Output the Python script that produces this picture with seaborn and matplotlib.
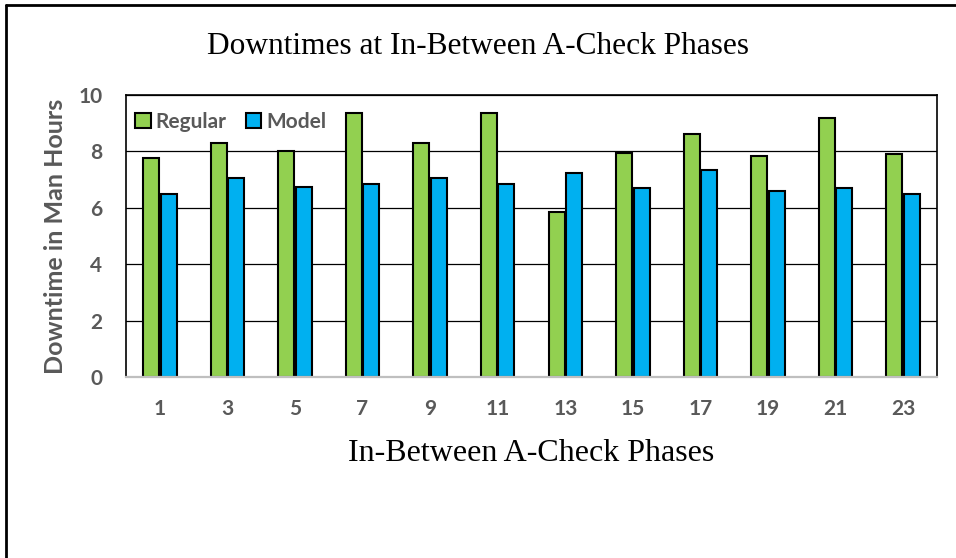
import matplotlib

matplotlib.use("Agg")
import matplotlib.pyplot as plt
import pandas as pd
import seaborn as sns
from matplotlib.lines import Line2D

# values
phases = ["1", "3", "5", "7", "9", "11", "13", "15", "17", "19", "21", "23"]
regular = [7.75, 8.3, 8.0, 9.35, 8.3, 9.35, 5.85, 7.95, 8.6, 7.85, 9.2, 7.9]
model = [6.5, 7.05, 6.75, 6.85, 7.05, 6.85, 7.25, 6.7, 7.35, 6.6, 6.7, 6.5]
series = ["Regular", "Model"]
colours = {"Regular": "#92D050", "Model": "#00B0F0"}
yticks = [0, 2, 4, 6, 8, 10]

TEXT_GREY = "#595959"
SANS = ["Lato", "DejaVu Sans"]
SERIF = ["Liberation Serif", "DejaVu Serif"]

sns.set_theme(style="white")
plt.rcParams["font.family"] = SANS

long = pd.DataFrame(
    {
        "phase": phases * 2,
        "value": regular + model,
        "series": ["Regular"] * len(phases) + ["Model"] * len(phases),
    }
)

fig = plt.figure(figsize=(9.56, 5.58), dpi=100)
ax = fig.add_axes([126 / 956, 1 - 377 / 558, 811 / 956, 282 / 558])

sns.barplot(
    data=long,
    x="phase",
    y="value",
    hue="series",
    hue_order=series,
    order=phases,
    palette=colours,
    saturation=1,
    width=0.52,
    gap=0.09,
    edgecolor="black",
    linewidth=1.5,
    errorbar=None,
    ax=ax,
)

ax.set_ylim(0, 10)
ax.set_xlim(-0.5, len(phases) - 0.5)
ax.set_yticks(yticks)
ax.yaxis.grid(True, color="black", linewidth=0.9)
ax.set_axisbelow(True)
ax.tick_params(axis="both", length=0, labelsize=15, labelcolor=TEXT_GREY)
ax.tick_params(axis="y", pad=17)
ax.tick_params(axis="x", pad=16)
for lab in ax.get_xticklabels() + ax.get_yticklabels():
    lab.set_fontweight("bold")

for side in ("top", "left", "right"):
    ax.spines[side].set_color("black")
    ax.spines[side].set_linewidth(1.2)
ax.spines["bottom"].set_color("#bfbfbf")
ax.spines["bottom"].set_linewidth(1.6)

ax.set_xlabel("In-Between A-Check Phases", fontsize=23, family=SERIF,
              color="black", labelpad=14)
ax.set_ylabel("Downtime in Man Hours", fontsize=18, fontweight="bold",
              color=TEXT_GREY, labelpad=8)

leg = ax.legend(
    loc="center left",
    bbox_to_anchor=(-0.012, 0.904),
    ncol=2,
    frameon=False,
    fontsize=15,
    handlelength=0.75,
    handleheight=0.75,
    handletextpad=0.25,
    columnspacing=0.9,
    borderpad=0.4,
)
for t in leg.get_texts():
    t.set_color(TEXT_GREY)
    t.set_fontweight("bold")

fig.text(0.5, 1 - 46 / 558, "Downtimes at In-Between A-Check Phases",
         ha="center", va="center", fontsize=22.6, family=SERIF, color="black")

# partial frame round the picture (top and left edges only)
fig.add_artist(Line2D([6 / 956, 1], [1 - 5 / 558, 1 - 5 / 558],
                      transform=fig.transFigure, color="black", linewidth=2))
fig.add_artist(Line2D([6 / 956, 6 / 956], [0, 1 - 5 / 558],
                      transform=fig.transFigure, color="black", linewidth=2))

fig.savefig("out.png", dpi=100)
